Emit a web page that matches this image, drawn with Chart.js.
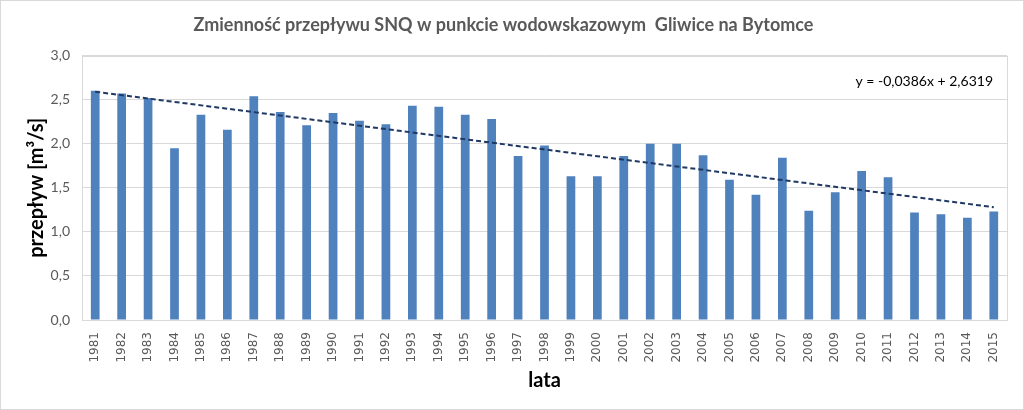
<!DOCTYPE html>
<html>
<head>
<meta charset="utf-8">
<script src="https://cdn.jsdelivr.net/npm/chart.js@4/dist/chart.umd.min.js"></script>
<style>
  html, body { margin: 0; padding: 0; background: #fff; }
  #wrap { width: 1024px; height: 410px; }
</style>
</head>
<body>
<div id="wrap"><canvas id="chart"></canvas></div>
<script>
// lata (years)
const years = ['1981','1982','1983','1984','1985','1986','1987','1988','1989','1990',
  '1991','1992','1993','1994','1995','1996','1997','1998','1999','2000',
  '2001','2002','2003','2004','2005','2006','2007','2008','2009','2010',
  '2011','2012','2013','2014','2015'];

// SNQ flow [m3/s]
const snq = [2.60, 2.57, 2.52, 1.95, 2.33, 2.16, 2.54, 2.36, 2.21, 2.35,
  2.26, 2.22, 2.43, 2.42, 2.33, 2.28, 1.86, 1.98, 1.63, 1.63,
  1.86, 2.00, 2.00, 1.87, 1.59, 1.42, 1.84, 1.24, 1.45, 1.69,
  1.62, 1.22, 1.20, 1.16, 1.23];

// trend line ends (first and last year)
const trendStart = 2.59;
const trendEnd = 1.28;
const trendLabel = 'y = -0,0386x + 2,6319';

const trend = years.map(function(y, i) {
  if (i === 0) return trendStart;
  if (i === years.length - 1) return trendEnd;
  return null;
});

const fontFam = 'Lato, "Open Sans", sans-serif';

// frame around picture + plot area border + equation text
const extras = {
  id: 'extras',
  beforeDraw: function(chart) {
    const ctx = chart.ctx;
    ctx.save();
    ctx.fillStyle = '#fff';
    ctx.fillRect(0, 0, chart.width, chart.height);
    ctx.restore();
  },
  afterDraw: function(chart) {
    const ctx = chart.ctx;
    const a = chart.chartArea;
    ctx.save();
    ctx.strokeStyle = '#d9d9d9';
    ctx.lineWidth = 1;
    ctx.strokeRect(0.5, 0.5, chart.width - 1, chart.height - 1);
    ctx.strokeRect(Math.round(a.left) + 0.5, Math.round(a.top) + 0.5,
      Math.round(a.right - a.left), Math.round(a.bottom - a.top));
    ctx.fillStyle = '#000';
    ctx.font = '14px ' + fontFam;
    ctx.textAlign = 'right';
    ctx.textBaseline = 'middle';
    ctx.fillText(trendLabel, a.right - 14, 81);
    ctx.restore();
  }
};

new Chart(document.getElementById('chart'), {
  type: 'bar',
  data: {
    labels: years,
    datasets: [
      {
        type: 'line',
        data: trend,
        spanGaps: true,
        borderColor: '#1f3864',
        borderWidth: 2,
        borderDash: [5, 3],
        pointRadius: 0,
        fill: false,
        order: 0
      },
      {
        data: snq,
        backgroundColor: '#4f81bd',
        barPercentage: 0.33,
        categoryPercentage: 1.0,
        order: 1
      }
    ]
  },
  options: {
    responsive: true,
    maintainAspectRatio: false,
    animation: false,
    layout: { padding: { left: 0, right: 17, top: 0, bottom: 0 } },
    plugins: {
      legend: { display: false },
      tooltip: { enabled: false },
      title: {
        display: true,
        text: 'Zmienność przepływu SNQ w punkcie wodowskazowym  Gliwice na Bytomce',
        color: '#595959',
        font: { family: fontFam, size: 18, weight: 'bold' },
        padding: { top: 14, bottom: 20 }
      }
    },
    scales: {
      x: {
        grid: { display: false },
        border: { color: '#d9d9d9' },
        ticks: {
          color: '#595959',
          font: { family: '"DejaVu Sans", sans-serif', size: 12 },
          padding: 4,
          minRotation: 90,
          maxRotation: 90,
          autoSkip: false
        },
        title: {
          display: true,
          text: 'lata',
          color: '#000',
          font: { family: fontFam, size: 20, weight: 'bold' },
          padding: { top: 4, bottom: 17 }
        },
        afterFit: function(scale) { scale.height = 90; }
      },
      y: {
        min: 0,
        max: 3,
        grid: { color: '#d9d9d9', drawTicks: false },
        border: { display: false },
        ticks: {
          stepSize: 0.5,
          color: '#595959',
          padding: 12,
          font: { family: fontFam, size: 14 },
          callback: function(v) { return v.toFixed(1).replace('.', ','); }
        },
        title: {
          display: true,
          text: 'przepływ [m³/s]',
          color: '#000',
          font: { family: fontFam, size: 20, weight: 'bold' },
          padding: { top: 25, bottom: 0 }
        },
        afterFit: function(scale) { scale.width = 82; }
      }
    }
  },
  plugins: [extras]
});
</script>
</body>
</html>
